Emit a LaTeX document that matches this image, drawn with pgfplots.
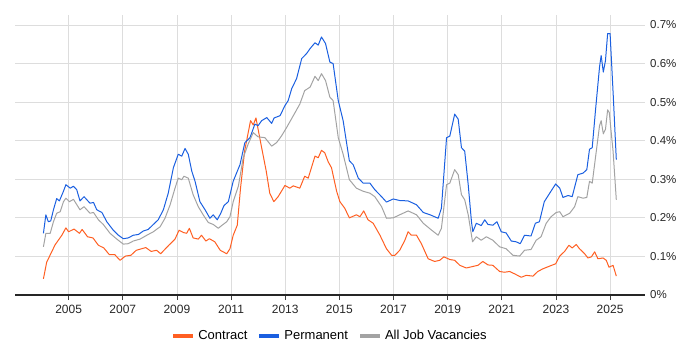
\documentclass[border=0pt]{standalone}
\usepackage{pgfplots}
\pgfplotsset{compat=1.18}
\usepackage{pgfplotstable}
\usepackage{fontspec}
\setmainfont{Liberation Sans}
\definecolor{contract}{HTML}{FF5F22}
\definecolor{permanent}{HTML}{1A5FE0}
\definecolor{alljobs}{HTML}{A3A3A3}
\definecolor{gridc}{HTML}{DDDDDD}

\pgfplotstableread{
x y
2004.07 0.042
2004.19 0.085
2004.50 0.130
2004.75 0.155
2004.90 0.174
2005.00 0.164
2005.20 0.171
2005.40 0.160
2005.50 0.170
2005.70 0.151
2005.90 0.148
2006.10 0.129
2006.30 0.122
2006.50 0.105
2006.70 0.105
2006.90 0.090
2007.10 0.101
2007.30 0.103
2007.50 0.116
2007.85 0.123
2008.05 0.113
2008.25 0.116
2008.40 0.107
2008.70 0.129
2008.93 0.145
2009.08 0.168
2009.24 0.162
2009.36 0.160
2009.46 0.173
2009.60 0.148
2009.79 0.145
2009.91 0.155
2010.07 0.140
2010.20 0.146
2010.40 0.138
2010.60 0.116
2010.84 0.107
2010.96 0.120
2011.08 0.155
2011.23 0.181
2011.35 0.277
2011.50 0.373
2011.72 0.452
2011.82 0.441
2011.92 0.459
2012.13 0.382
2012.30 0.321
2012.43 0.264
2012.58 0.242
2012.74 0.255
2012.99 0.284
2013.17 0.277
2013.30 0.283
2013.54 0.277
2013.72 0.308
2013.85 0.303
2014.10 0.360
2014.22 0.356
2014.34 0.375
2014.46 0.369
2014.59 0.345
2014.71 0.330
2014.90 0.269
2015.02 0.242
2015.20 0.225
2015.37 0.200
2015.63 0.208
2015.76 0.203
2015.90 0.218
2016.06 0.195
2016.25 0.186
2016.50 0.155
2016.74 0.120
2016.93 0.103
2017.05 0.103
2017.23 0.116
2017.42 0.142
2017.54 0.164
2017.66 0.155
2017.85 0.155
2018.03 0.133
2018.28 0.094
2018.52 0.087
2018.71 0.090
2018.86 0.099
2019.08 0.092
2019.26 0.090
2019.45 0.077
2019.69 0.070
2019.93 0.074
2020.12 0.077
2020.30 0.087
2020.49 0.078
2020.67 0.077
2020.92 0.061
2021.10 0.059
2021.29 0.061
2021.47 0.055
2021.72 0.046
2021.90 0.051
2022.15 0.049
2022.33 0.061
2022.52 0.068
2022.77 0.075
2022.99 0.081
2023.14 0.101
2023.32 0.113
2023.48 0.129
2023.60 0.122
2023.75 0.131
2023.87 0.120
2024.06 0.107
2024.18 0.096
2024.31 0.099
2024.43 0.112
2024.55 0.094
2024.74 0.096
2024.86 0.090
2024.96 0.072
2025.11 0.077
2025.23 0.049
}\contract

\pgfplotstableread{
x y
2004.07 0.160
2004.16 0.208
2004.25 0.190
2004.34 0.192
2004.44 0.221
2004.56 0.250
2004.66 0.244
2004.81 0.269
2004.90 0.286
2005.06 0.277
2005.18 0.282
2005.30 0.273
2005.42 0.244
2005.57 0.255
2005.79 0.238
2005.92 0.240
2006.04 0.221
2006.23 0.214
2006.41 0.190
2006.65 0.168
2006.84 0.155
2007.02 0.146
2007.20 0.148
2007.39 0.155
2007.58 0.157
2007.76 0.166
2007.94 0.170
2008.13 0.183
2008.31 0.195
2008.50 0.221
2008.68 0.264
2008.87 0.330
2009.05 0.365
2009.18 0.360
2009.30 0.380
2009.42 0.365
2009.55 0.321
2009.67 0.295
2009.85 0.242
2010.04 0.221
2010.22 0.199
2010.34 0.208
2010.49 0.195
2010.62 0.212
2010.74 0.232
2010.90 0.242
2011.08 0.295
2011.33 0.338
2011.51 0.395
2011.70 0.408
2011.88 0.443
2012.00 0.439
2012.13 0.452
2012.32 0.460
2012.50 0.445
2012.59 0.459
2012.81 0.465
2012.99 0.491
2013.11 0.504
2013.24 0.535
2013.42 0.561
2013.61 0.613
2013.79 0.626
2013.92 0.639
2014.10 0.654
2014.22 0.648
2014.34 0.669
2014.49 0.652
2014.65 0.604
2014.77 0.600
2014.96 0.504
2015.14 0.452
2015.37 0.348
2015.51 0.338
2015.70 0.303
2015.88 0.290
2016.13 0.290
2016.31 0.273
2016.56 0.255
2016.74 0.241
2016.99 0.249
2017.23 0.245
2017.54 0.244
2017.85 0.234
2018.10 0.214
2018.35 0.208
2018.65 0.199
2018.77 0.225
2018.96 0.408
2019.08 0.412
2019.26 0.469
2019.39 0.456
2019.51 0.382
2019.63 0.373
2019.76 0.286
2019.88 0.190
2019.93 0.164
2020.06 0.186
2020.24 0.180
2020.37 0.195
2020.49 0.183
2020.67 0.181
2020.82 0.190
2020.98 0.164
2021.16 0.161
2021.35 0.140
2021.53 0.138
2021.68 0.133
2021.84 0.155
2022.08 0.153
2022.24 0.186
2022.39 0.190
2022.57 0.242
2022.77 0.264
2022.99 0.288
2023.14 0.277
2023.26 0.253
2023.45 0.258
2023.60 0.255
2023.81 0.312
2024.00 0.316
2024.14 0.325
2024.24 0.378
2024.34 0.382
2024.46 0.478
2024.61 0.591
2024.67 0.621
2024.75 0.578
2024.83 0.608
2024.91 0.678
2025.00 0.678
2025.12 0.513
2025.23 0.351
}\permanent

\pgfplotstableread{
x y
2004.07 0.125
2004.16 0.160
2004.32 0.160
2004.44 0.190
2004.56 0.212
2004.69 0.216
2004.81 0.242
2004.90 0.251
2005.03 0.242
2005.18 0.248
2005.42 0.221
2005.57 0.229
2005.79 0.212
2005.92 0.214
2006.10 0.195
2006.28 0.183
2006.53 0.160
2006.78 0.145
2007.02 0.132
2007.20 0.133
2007.39 0.140
2007.64 0.145
2007.89 0.155
2008.13 0.164
2008.38 0.177
2008.56 0.199
2008.75 0.234
2008.93 0.277
2009.05 0.303
2009.18 0.299
2009.26 0.308
2009.42 0.303
2009.60 0.260
2009.79 0.229
2009.97 0.208
2010.16 0.188
2010.34 0.183
2010.53 0.173
2010.65 0.180
2010.84 0.190
2010.96 0.203
2011.08 0.242
2011.27 0.282
2011.45 0.356
2011.63 0.391
2011.82 0.421
2012.00 0.410
2012.25 0.408
2012.50 0.386
2012.68 0.395
2012.86 0.412
2013.05 0.434
2013.30 0.465
2013.54 0.495
2013.72 0.530
2013.92 0.539
2014.10 0.567
2014.22 0.556
2014.34 0.574
2014.49 0.556
2014.65 0.513
2014.77 0.504
2014.96 0.408
2015.14 0.365
2015.37 0.299
2015.63 0.277
2015.88 0.269
2016.13 0.264
2016.31 0.255
2016.56 0.229
2016.74 0.199
2016.99 0.200
2017.23 0.208
2017.54 0.218
2017.85 0.208
2018.10 0.186
2018.41 0.168
2018.65 0.155
2018.77 0.173
2018.96 0.286
2019.08 0.290
2019.26 0.325
2019.39 0.312
2019.51 0.260
2019.63 0.247
2019.76 0.208
2019.92 0.138
2020.06 0.151
2020.24 0.142
2020.43 0.151
2020.67 0.142
2020.92 0.125
2021.16 0.120
2021.41 0.103
2021.66 0.101
2021.84 0.116
2022.08 0.118
2022.27 0.142
2022.45 0.151
2022.64 0.186
2022.82 0.203
2023.01 0.214
2023.14 0.216
2023.26 0.203
2023.51 0.212
2023.69 0.229
2023.81 0.255
2024.00 0.251
2024.14 0.253
2024.24 0.295
2024.34 0.290
2024.46 0.356
2024.61 0.439
2024.67 0.452
2024.75 0.418
2024.83 0.430
2024.91 0.480
2024.97 0.473
2025.11 0.373
2025.23 0.247
}\alljobs

\begin{document}
\fontsize{12}{14}\selectfont
\begin{tikzpicture}
\begin{axis}[
  name=ax,
  scale only axis,
  width=630pt, height=280pt,
  xmin=2003.02, xmax=2026.29,
  ymin=0, ymax=0.726,
  axis x line*=bottom,
  axis y line*=right,
  y axis line style={draw=none},
  x axis line style={line width=1.2pt, color=black!85},
  xtick={2005,2007,...,2025},
  ytick={0,0.1,...,0.7},
  xtick align=outside,
  major tick length=5pt,
  xtick style={color=black!75, line width=0.8pt},
  ytick style={draw=none},
  grid=major,
  major grid style={color=gridc, line width=0.8pt},
  /pgf/number format/assume math mode=true,
  /pgf/number format/1000 sep={},
  xticklabel style={font=\fontsize{12}{14}\selectfont, color=black!85, yshift=-1pt},
  yticklabel style={font=\fontsize{11.5}{14}\selectfont, color=black!85, anchor=west, xshift=1pt},
  yticklabel={\pgfmathprintnumber[fixed,precision=1]{\tick}\%},
  legend columns=3,
  legend style={at={(0.5,0)}, anchor=center, yshift=-41pt, draw=none, fill=none,
    font=\fontsize{13}{15}\selectfont, column sep=1pt,
    /tikz/every even column/.append style={column sep=8pt}},
  legend image code/.code={\draw[line width=4pt] (0pt,0pt) -- (20pt,0pt);},
  every axis plot/.append style={line width=1pt, line join=round},
]
\addplot[contract] table {\contract};
\addlegendentry{Contract}
\addplot[permanent] table {\permanent};
\addlegendentry{Permanent}
\addplot[alljobs] table {\alljobs};
\addlegendentry{All Job Vacancies}
\end{axis}
\path[use as bounding box] ([xshift=-15pt,yshift=-55pt]ax.south west) rectangle ([xshift=55pt,yshift=15pt]ax.north east);
\end{tikzpicture}
\end{document}
